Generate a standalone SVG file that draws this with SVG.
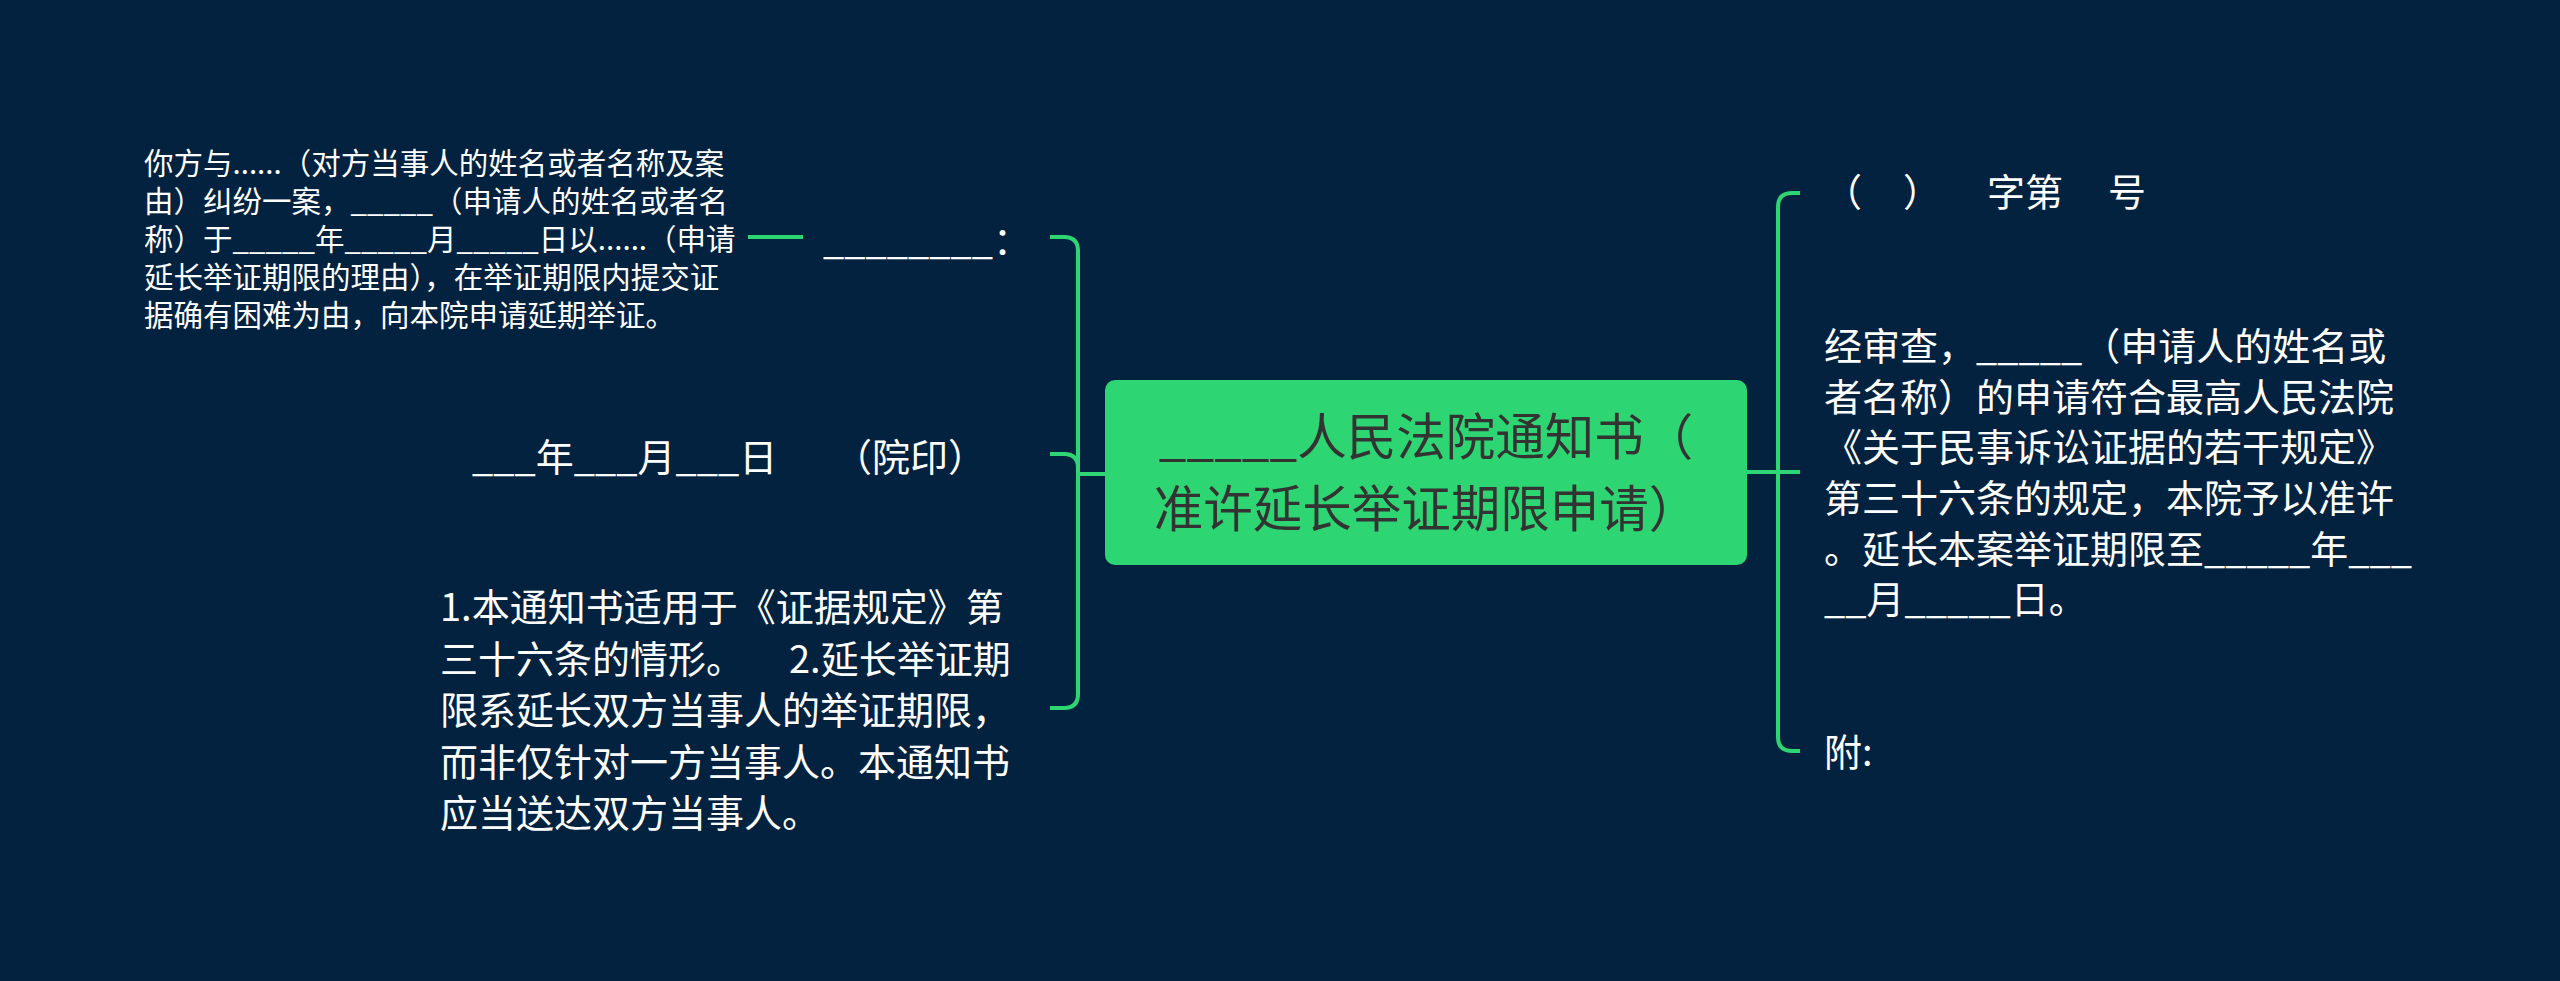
<svg xmlns="http://www.w3.org/2000/svg" width="2560" height="981" viewBox="0 0 2560 981">
<style>
text{font-family:"Noto Sans CJK SC","Noto Sans",sans-serif;fill:#ffffff}
.s{font-size:29.5px}
.m{font-size:38px}
.c{font-size:49.5px;fill:#333333;text-anchor:middle}
.ln{fill:none;stroke:#2ed573;stroke-width:4;stroke-linecap:butt}
</style>
<rect x="0" y="0" width="2560" height="981" fill="#02223f"/>
<g id="connectors">
<path class="ln" d="M1105 474 H1078"/>
<path class="ln" d="M1078 474 V251 Q1078 237 1064 237 H1050"/>
<path class="ln" d="M1078 474 V468 Q1078 454 1064 454 H1050"/>
<path class="ln" d="M1078 474 V694 Q1078 708 1064 708 H1050"/>
<path class="ln" d="M803 237 H748"/>
<path class="ln" d="M1747 472 H1800"/>
<path class="ln" d="M1778 472 V207 Q1778 193 1792 193 H1800"/>
<path class="ln" d="M1778 472 V737 Q1778 751 1792 751 H1800"/>
</g>
<g id="root">
<rect x="1105" y="380" width="642" height="185" rx="10" fill="#2ed573"/>
<text class="c"><tspan x="1426" y="455">_____人民法院通知书（</tspan><tspan x="1426" y="527">准许延长举证期限申请）</tspan></text>
</g>
<g id="node-blank">
<text class="m" x="823" y="254">________：</text>
</g>
<g id="node-blank-detail">
<text class="s" x="144"><tspan x="144" y="174">你方与......（对方当事人的姓名或者名称及案</tspan><tspan x="144" y="212">由）纠纷一案，_____（申请人的姓名或者名</tspan><tspan x="144" y="250">称）于_____年_____月_____日以......（申请</tspan><tspan x="144" y="288">延长举证期限的理由），在举证期限内提交证</tspan><tspan x="144" y="326">据确有困难为由，向本院申请延期举证。</tspan></text>
</g>
<g id="node-date">
<text class="m" y="471"><tspan x="472">___年___月___日</tspan><tspan x="834">（院印）</tspan></text>
</g>
<g id="node-notes">
<text class="m"><tspan x="440" y="621">1.本通知书适用于《证据规定》第</tspan><tspan x="440" y="672.5">三十六条的情形。</tspan><tspan x="789" y="672.5">2.延长举证期</tspan><tspan x="440" y="724">限系延长双方当事人的举证期限，</tspan><tspan x="440" y="775.5">而非仅针对一方当事人。本通知书</tspan><tspan x="440" y="827">应当送达双方当事人。</tspan></text>
</g>
<g id="node-number">
<text class="m" y="206"><tspan x="1824">（</tspan><tspan x="1903">）</tspan><tspan x="1987">字第</tspan><tspan x="2108">号</tspan></text>
</g>
<g id="node-body">
<text class="m"><tspan x="1824" y="360">经审查，_____（申请人的姓名或</tspan><tspan x="1824" y="411">者名称）的申请符合最高人民法院</tspan><tspan x="1824" y="461">《关于民事诉讼证据的若干规定》</tspan><tspan x="1824" y="512">第三十六条的规定，本院予以准许</tspan><tspan x="1824" y="563">。延长本案举证期限至_____年___</tspan><tspan x="1824" y="613">__月_____日。</tspan></text>
</g>
<g id="node-attach">
<text class="m" x="1824" y="766">附:</text>
</g>
</svg>
